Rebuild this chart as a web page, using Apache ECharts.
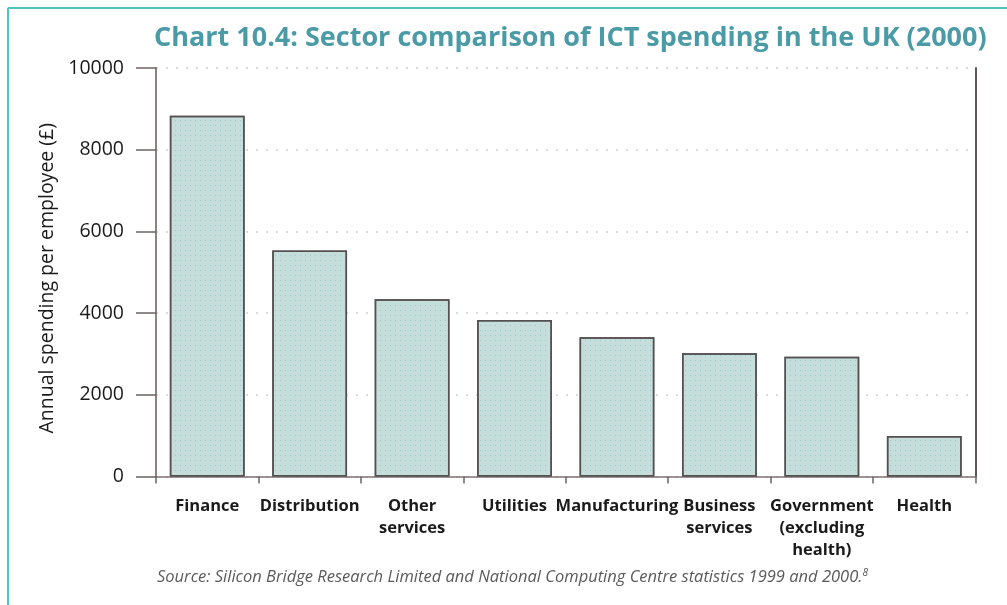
<!DOCTYPE html>
<html>
<head>
<meta charset="utf-8">
<script src="https://cdn.jsdelivr.net/npm/echarts@6/dist/echarts.min.js"></script>
<style>
  html, body { margin: 0; padding: 0; background: #fff; }
  #chart { width: 1007px; height: 605px; }
</style>
</head>
<body>
<div id="chart"></div>
<script>
// ICT spending per employee by sector, UK 2000 (£)
const sectors = [
  'Finance', 'Distribution', 'Other\nservices', 'Utilities',
  'Manufacturing', 'Business\nservices', 'Government\n(excluding\nhealth)', 'Health'
];
const spending = [8830, 5530, 4340, 3830, 3410, 3020, 2930, 990];
const yTicks = [0, 2000, 4000, 6000, 8000, 10000];

const titleText = 'Chart 10.4: Sector comparison of ICT spending in the UK (2000)';
const yAxisTitle = 'Annual spending per employee (£)';
const sourceText = 'Source: Silicon Bridge Research Limited and National Computing Centre statistics 1999 and 2000.';

const chart = echarts.init(document.getElementById('chart'), null, { renderer: 'canvas' });

chart.setOption({
  animation: false,
  backgroundColor: '#ffffff',
  title: {
    text: titleText,
    left: 149,
    top: 20,
    textStyle: {
      fontFamily: 'Open Sans',
      fontWeight: 'bold',
      fontSize: 27,
      color: '#4a9ba6'
    }
  },
  grid: { left: 156, right: 31.5, top: 68, bottom: 128.5, containLabel: false },
  xAxis: {
    type: 'category',
    data: sectors,
    axisLine: { show: true, lineStyle: { color: '#7d7373', width: 1.5 } },
    axisTick: { show: true, alignWithLabel: false, length: 7, lineStyle: { color: '#6b6363', width: 1.5 } },
    axisLabel: {
      interval: 0,
      margin: 19,
      fontFamily: 'Open Sans',
      fontWeight: 'bold',
      fontSize: 16.5,
      lineHeight: 22,
      color: '#1a1a1a'
    },
    splitLine: { show: false }
  },
  yAxis: [
    {
      type: 'value',
      min: 0,
      max: 10000,
      interval: 2000,
      name: yAxisTitle,
      nameLocation: 'middle',
      nameGap: 97,
      nameTextStyle: { fontFamily: 'Open Sans', fontSize: 19.5, color: '#1a1a1a', padding: [0, 12, 0, 0] },
      axisLine: { show: true, lineStyle: { color: '#8c8282', width: 2 } },
      axisTick: { show: true, length: 20, lineStyle: { color: '#6b6363', width: 1.5 } },
      axisLabel: {
        margin: 32,
        fontFamily: 'Open Sans',
        fontSize: 19.5,
        color: '#1a1a1a',
        formatter: v => (yTicks.includes(v) ? String(v) : '')
      },
      splitLine: { show: true, lineStyle: { color: '#cfcfcf', width: 1.5, type: [2, 8] } }
    },
    {
      type: 'value',
      position: 'right',
      min: 0,
      max: 10000,
      interval: 2000,
      axisLine: { show: true, lineStyle: { color: '#5e5656', width: 2 } },
      axisTick: { show: false },
      axisLabel: { show: false },
      splitLine: { show: false }
    }
  ],
  series: [
    {
      type: 'bar',
      data: spending,
      yAxisIndex: 0,
      barWidth: '73%',
      itemStyle: {
        color: '#c6dedb',
        borderColor: '#545050',
        borderWidth: 1.5,
        decal: {
          symbol: 'rect',
          symbolSize: 1,
          color: 'rgba(110,190,195,0.55)',
          dashArrayX: [1, 4],
          dashArrayY: [1, 4],
          rotation: 0
        }
      }
    }
  ],
  graphic: [
    {
      type: 'line',
      shape: { x1: 8, y1: 8, x2: 1007, y2: 8 },
      style: { stroke: '#4fc4bf', lineWidth: 2 },
      silent: true
    },
    {
      type: 'line',
      shape: { x1: 8, y1: 8, x2: 8, y2: 605 },
      style: { stroke: '#4fc4bf', lineWidth: 2 },
      silent: true
    },
    {
      type: 'text',
      left: 157,
      top: 568,
      style: {
        text: '{s|' + sourceText + '}{sup|8}',
        rich: {
          s: { fontFamily: 'Open Sans', fontStyle: 'italic', fontSize: 16.5, fill: '#5a5a5a' },
          sup: { fontFamily: 'Open Sans', fontStyle: 'italic', fontSize: 10, fill: '#5a5a5a', verticalAlign: 'top', padding: [0, 0, 8, 0] }
        }
      }
    }
  ]
});
</script>
</body>
</html>
